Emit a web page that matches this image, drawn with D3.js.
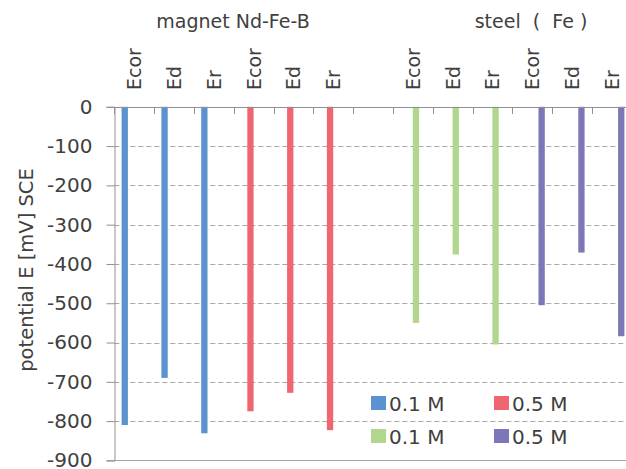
<!DOCTYPE html>
<html>
<head>
<meta charset="utf-8">
<script src="https://cdn.jsdelivr.net/npm/d3@7"></script>
<style>
  body { margin: 0; background: #fff; }
  svg text { font-family: "DejaVu Sans", sans-serif; fill: #404040; }
</style>
</head>
<body>
<svg id="canvas"></svg>
<script>
const categories = ["Ecor", "Ed", "Er", "Ecor", "Ed", "Er", "", "Ecor", "Ed", "Er", "Ecor", "Ed", "Er"];
const seriesNames = ["0.1 M", "0.5 M", "0.1 M", "0.5 M"];
const colors = ["#5a93cf", "#ef6670", "#b1d68d", "#7c78b7"];
const yTicks = [0, -100, -200, -300, -400, -500, -600, -700, -800, -900];

// one value per category, null where the series has no bar
const magnet01 = [-810, -690, -831, null, null, null, null, null, null, null, null, null, null];
const magnet05 = [null, null, null, -775, -728, -823, null, null, null, null, null, null, null];
const steel01  = [null, null, null, null, null, null, null, -550, -376, -605, null, null, null];
const steel05  = [null, null, null, null, null, null, null, null, null, null, -505, -371, -584];
const seriesValues = [magnet01, magnet05, steel01, steel05];

const width = 626;
const height = 469;
const left = 114.3;
const catW = 39.8;

const svg = d3.select("#canvas")
    .attr("width", width)
    .attr("height", height);

const x = d3.scaleBand()
    .domain(d3.range(categories.length))
    .range([left, left + catW * categories.length])
    .padding(0);

const xs = d3.scaleBand()
    .domain(d3.range(seriesNames.length))
    .range([0, x.bandwidth()])
    .paddingInner(0)
    .paddingOuter(1.16);

const y = d3.scaleLinear()
    .domain([-900, 0])
    .range([460.4, 106.8]);

// dashed gridlines
svg.append("g")
    .selectAll("line")
    .data(yTicks.filter(t => t !== 0 && t !== -900))
    .enter()
    .append("line")
    .attr("x1", left)
    .attr("x2", width)
    .attr("y1", d => Math.round(y(d)) + 0.5)
    .attr("y2", d => Math.round(y(d)) + 0.5)
    .attr("stroke", "#a6a6a6")
    .attr("stroke-width", 1)
    .attr("stroke-dasharray", "5,3");

// bottom frame line
svg.append("line")
    .attr("x1", left)
    .attr("x2", width)
    .attr("y1", Math.round(y(-900)) + 0.5)
    .attr("y2", Math.round(y(-900)) + 0.5)
    .attr("stroke", "#a6a6a6");

// bars
seriesValues.forEach((vals, s) => {
    svg.append("g")
        .selectAll("rect")
        .data(vals.map((v, i) => ({ i, v })).filter(d => d.v !== null))
        .enter()
        .append("rect")
        .attr("x", d => x(d.i) + xs(s))
        .attr("width", xs.bandwidth())
        .attr("y", y(0))
        .attr("height", d => y(d.v) - y(0))
        .attr("fill", colors[s]);
});

// category axis on top (the zero line)
const xBoundaries = d3.range(categories.length + 1).map(i => left + i * catW);
svg.append("line")
    .attr("x1", left)
    .attr("x2", width)
    .attr("y1", Math.round(y(0)) + 0.5)
    .attr("y2", Math.round(y(0)) + 0.5)
    .attr("stroke", "#909090");
svg.append("g")
    .selectAll("line")
    .data(xBoundaries)
    .enter()
    .append("line")
    .attr("x1", d => Math.round(d) + 0.5)
    .attr("x2", d => Math.round(d) + 0.5)
    .attr("y1", Math.round(y(0)))
    .attr("y2", Math.round(y(0)) + 7)
    .attr("stroke", "#909090");

// category labels, rotated
svg.append("g")
    .selectAll("text")
    .data(categories)
    .enter()
    .append("text")
    .attr("transform", (d, i) => `translate(${x(i) + x.bandwidth() / 2 + 7}, 90) rotate(-90)`)
    .attr("text-anchor", "start")
    .style("font-size", "19px")
    .text(d => d);

// y axis
const yAxis = d3.axisLeft(y)
    .tickValues(yTicks)
    .tickSize(8)
    .tickPadding(14)
    .tickFormat(d => String(d));
const gy = svg.append("g")
    .attr("transform", `translate(${Math.round(left) + 0.5}, 0)`)
    .call(yAxis);
gy.select(".domain").attr("stroke", "#909090");
gy.selectAll(".tick line").attr("stroke", "#909090");
gy.selectAll(".tick text")
    .style("font-size", "20px")
    .attr("fill", "#404040")
    .style("font-family", "DejaVu Sans, sans-serif");

svg.append("text")
    .attr("transform", "translate(33, 270) rotate(-90)")
    .attr("text-anchor", "middle")
    .style("font-size", "19.5px")
    .text("potential E [mV] SCE");

// group titles
svg.append("text")
    .attr("x", 233)
    .attr("y", 28)
    .attr("text-anchor", "middle")
    .style("font-size", "19px")
    .text("magnet Nd-Fe-B");
svg.append("text")
    .attr("x", 531)
    .attr("y", 28)
    .attr("text-anchor", "middle")
    .style("font-size", "19px")
    .style("white-space", "pre")
    .text("steel  (  Fe )");

// legend
const legendPos = [[371, 396], [494, 396], [371, 429], [494, 429]];
const legend = svg.append("g")
    .selectAll("g")
    .data(seriesNames)
    .enter()
    .append("g")
    .attr("transform", (d, i) => `translate(${legendPos[i][0]}, ${legendPos[i][1]})`);
legend.append("rect")
    .attr("width", 15)
    .attr("height", 14)
    .attr("fill", (d, i) => colors[i]);
legend.append("text")
    .attr("x", 18)
    .attr("y", 15)
    .style("font-size", "20px")
    .text(d => d);
</script>
</body>
</html>
